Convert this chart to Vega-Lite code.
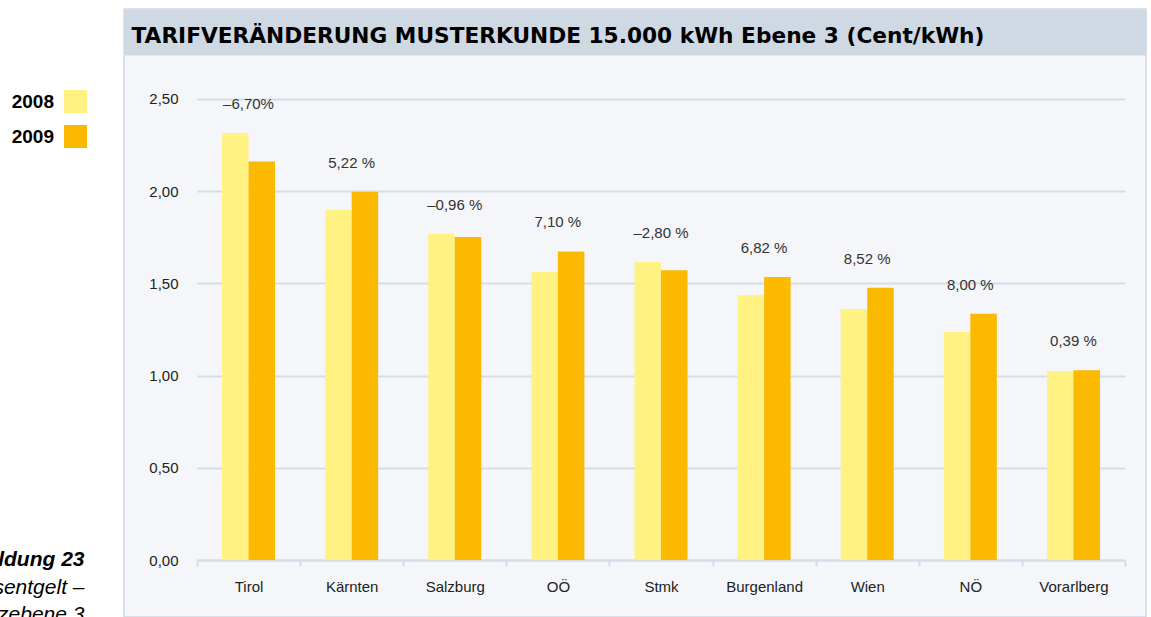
{
  "$schema": "https://vega.github.io/schema/vega-lite/v6.json",
  "autosize": "none",
  "padding": {"left": 124, "top": 9, "right": 5, "bottom": 0},
  "background": "white",
  "width": 1022,
  "height": 608,
  "view": {"fill": "#f4f6f9", "stroke": "#cfd9e3", "strokeWidth": 1.5},
  "config": {"font": "Liberation Sans"},
  "data": {
    "values": [
      {"region": "Tirol", "year": "2008", "value": 2.316, "change": "–6,70%"},
      {"region": "Tirol", "year": "2009", "value": 2.161, "change": "–6,70%"},
      {"region": "Kärnten", "year": "2008", "value": 1.898, "change": "5,22 %"},
      {"region": "Kärnten", "year": "2009", "value": 1.997, "change": "5,22 %"},
      {"region": "Salzburg", "year": "2008", "value": 1.768, "change": "–0,96 %"},
      {"region": "Salzburg", "year": "2009", "value": 1.751, "change": "–0,96 %"},
      {"region": "OÖ", "year": "2008", "value": 1.562, "change": "7,10 %"},
      {"region": "OÖ", "year": "2009", "value": 1.673, "change": "7,10 %"},
      {"region": "Stmk", "year": "2008", "value": 1.616, "change": "–2,80 %"},
      {"region": "Stmk", "year": "2009", "value": 1.571, "change": "–2,80 %"},
      {"region": "Burgenland", "year": "2008", "value": 1.437, "change": "6,82 %"},
      {"region": "Burgenland", "year": "2009", "value": 1.535, "change": "6,82 %"},
      {"region": "Wien", "year": "2008", "value": 1.361, "change": "8,52 %"},
      {"region": "Wien", "year": "2009", "value": 1.477, "change": "8,52 %"},
      {"region": "NÖ", "year": "2008", "value": 1.236, "change": "8,00 %"},
      {"region": "NÖ", "year": "2009", "value": 1.335, "change": "8,00 %"},
      {"region": "Vorarlberg", "year": "2008", "value": 1.025, "change": "0,39 %"},
      {"region": "Vorarlberg", "year": "2009", "value": 1.029, "change": "0,39 %"}
    ]
  },
  "resolve": {"scale": {"x": "independent"}, "axis": {"x": "independent"}},
  "layer": [
    {
      "mark": {"type": "bar"},
      "encoding": {
        "x": {
          "field": "region",
          "type": "nominal",
          "sort": null,
          "scale": {"range": [73, 1001], "paddingInner": 0, "paddingOuter": 0},
          "axis": {
            "orient": "bottom",
            "offset": -57,
            "tickBand": "extent",
            "grid": false,
            "domainColor": "#d5dde8",
            "domainWidth": 2,
            "tickColor": "#d5dde8",
            "tickWidth": 2,
            "tickSize": 6,
            "labelPadding": 13,
            "labelAngle": 0,
            "labelFontSize": 15,
            "labelColor": "#222222",
            "title": ["Netznutzungsentgelt –", "Netzebene 3"],
            "titleX": -40,
            "titleY": 33,
            "titleAlign": "right",
            "titleBaseline": "alphabetic",
            "titleFontSize": 21,
            "titleFontStyle": "italic",
            "titleFontWeight": "normal",
            "titleLineHeight": 27,
            "titleColor": "#000000"
          }
        },
        "xOffset": {
          "field": "year",
          "type": "nominal",
          "scale": {"paddingInner": 0, "paddingOuter": 0.945}
        },
        "y": {
          "field": "value",
          "type": "quantitative",
          "stack": null,
          "title": "Abbildung 23",
          "scale": {"domain": [-0.3091, 2.988], "nice": false, "zero": false},
          "axis": {
            "values": [0, 0.5, 1, 1.5, 2, 2.5],
            "domain": false,
            "ticks": false,
            "tickSize": 0,
            "labelPadding": -54,
            "labelAlign": "right",
            "labelExpr": "replace(format(datum.value, '.2f'), '.', ',')",
            "labelFontSize": 15,
            "labelColor": "#222222",
            "grid": true,
            "gridColor": "#d5dde8",
            "gridWidth": 2,
            "titleAngle": 0,
            "titleAlign": "right",
            "titleBaseline": "alphabetic",
            "titleX": -40,
            "titleY": 556,
            "titleFontSize": 21,
            "titleFontStyle": "italic",
            "titleFontWeight": "bold",
            "titleColor": "#000000"
          }
        },
        "color": {
          "field": "year",
          "type": "nominal",
          "scale": {"domain": ["2008", "2009"], "range": ["#fff283", "#fbba00"]},
          "legend": {
            "orient": "none",
            "legendX": -60,
            "legendY": 81,
            "title": null,
            "padding": 0,
            "symbolType": "square",
            "symbolSize": 529,
            "symbolStrokeWidth": 0,
            "symbolOpacity": 1,
            "labelAlign": "right",
            "labelOffset": -33,
            "labelFontSize": 19,
            "labelFontWeight": "bold",
            "labelColor": "#000000",
            "rowPadding": 12
          }
        }
      }
    },
    {
      "transform": [
        {"joinaggregate": [{"op": "max", "field": "value", "as": "top"}], "groupby": ["region"]},
        {"filter": "datum.year == '2008'"}
      ],
      "mark": {"type": "text", "dy": -29, "baseline": "middle", "fontSize": 15, "color": "#333333"},
      "encoding": {
        "x": {
          "field": "region",
          "type": "nominal",
          "sort": null,
          "scale": {"type": "point", "padding": 0.9558, "align": 0.6317},
          "axis": {
            "orient": "top",
            "offset": -23,
            "labels": false,
            "ticks": false,
            "grid": false,
            "domainColor": "#cfd9e3",
            "domainWidth": 46,
            "title": "TARIFVERÄNDERUNG MUSTERKUNDE 15.000 kWh Ebene 3 (Cent/kWh)",
            "titleAnchor": "start",
            "titleAlign": "left",
            "titleX": 7,
            "titleY": 10,
            "titleBaseline": "alphabetic",
            "titleFont": "DejaVu Sans",
            "titleFontSize": 21.7,
            "titleFontWeight": "bold",
            "titleColor": "#000000"
          }
        },
        "y": {"field": "top", "type": "quantitative", "title": "Abbildung 23"},
        "text": {"field": "change"}
      }
    }
  ]
}
